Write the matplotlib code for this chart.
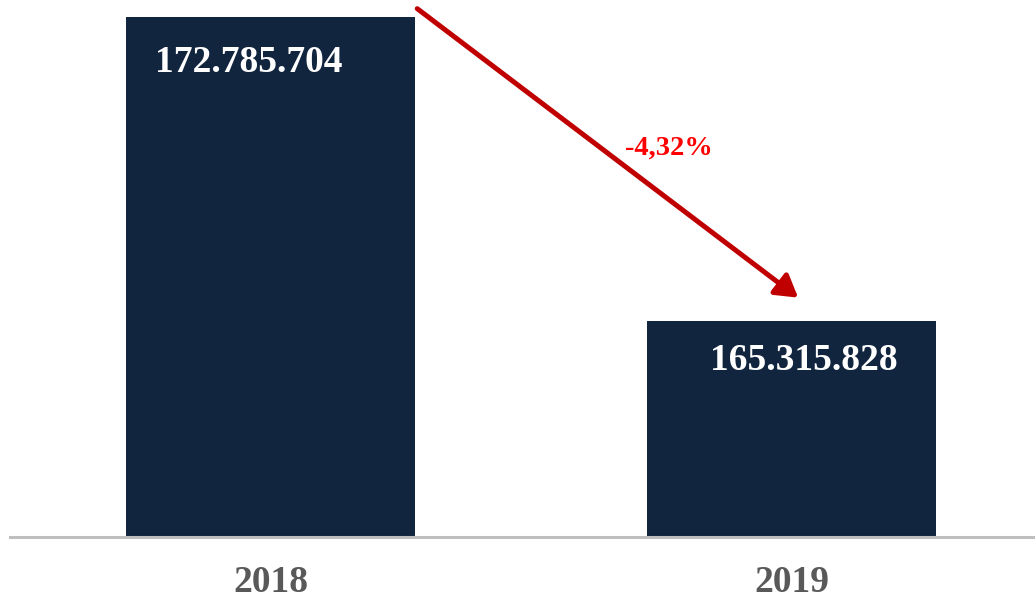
import matplotlib
matplotlib.use("Agg")
import matplotlib.pyplot as plt
from matplotlib.patches import FancyArrowPatch

categories = ["2018", "2019"]
values = [172785704, 165315828]
labels = ["172.785.704", "165.315.828"]

bar_color = "#12253F"
arrow_color = "#C00000"

plt.rcParams['font.family'] = ['Liberation Serif', 'DejaVu Serif']

fig = plt.figure(figsize=(10.35, 5.98), dpi=100)
ax = fig.add_axes([10/1035, 61/598, 1025/1035, 537/598])

x = list(range(len(categories)))
width = 0.555
ax.bar(x, values, width=width, color=bar_color, zorder=2)

ymin = 160_000_000
ymax = 173_195_000
ax.set_ylim(ymin, ymax)
ax.set_xlim(-0.5, 1.467)

for s in ["top", "right", "left"]:
    ax.spines[s].set_visible(False)
ax.spines["bottom"].set_color("#BFBFBF")
ax.spines["bottom"].set_linewidth(2.2)
ax.spines["bottom"].set_zorder(3)
ax.set_yticks([])
ax.set_xticks(x)
ax.set_xticklabels(categories, fontsize=27, fontweight="bold", color="#595959")
ax.tick_params(axis="x", length=0, pad=20)

# value labels
offsets = [(-22, -46), (12, -40)]  # pixel offsets from bar top center
for xi, v, lab, (dx, dy) in zip(x, values, labels, offsets):
    ax.annotate(lab, xy=(xi, v), xytext=(dx * 0.72, dy * 0.72), textcoords="offset points",
                ha="center", va="center", fontsize=27, fontweight="bold", color="white", zorder=4)

# arrow
start = (0 + width / 2 + 0.004, values[0] + 8 / 537 * (ymax - ymin))
end = (1 + 0.0125, values[1] + 23 / 537 * (ymax - ymin))
arrow = FancyArrowPatch(start, end, arrowstyle="-|>,head_length=6,head_width=3.6",
                        color=arrow_color, lw=3.6, mutation_scale=2.2, zorder=5,
                        shrinkA=0, shrinkB=0, clip_on=False)
ax.add_patch(arrow)

pct = (values[1] / values[0] - 1) * 100
pct_label = f"{pct:.2f}%".replace(".", ",")
ax.text((start[0] + end[0]) / 2 + 0.118, values[0] - 132 / 537 * (ymax - ymin), pct_label,
        ha="center", va="center", fontsize=20.5, fontweight="bold", color="#FF0000", zorder=6)

fig.savefig("out.png", dpi=100)
